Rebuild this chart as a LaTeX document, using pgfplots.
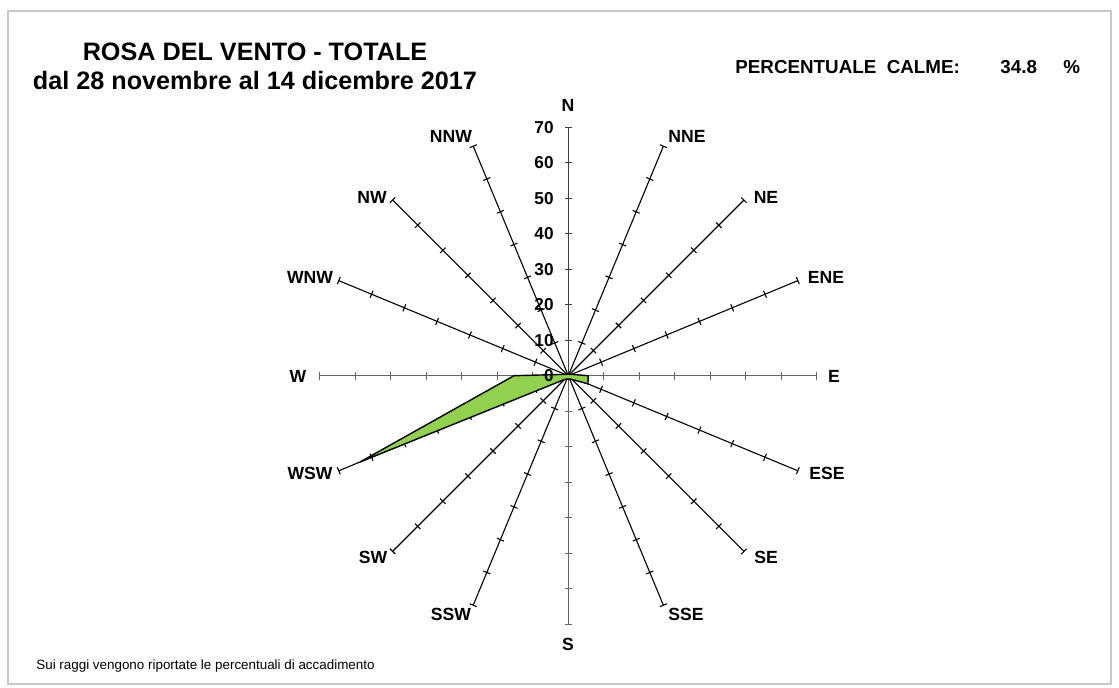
\documentclass[border=0pt]{standalone}
\usepackage{pgfplots}
\pgfplotsset{compat=1.18}
\usepackage{fontspec}
\setmainfont{Liberation Sans}
\definecolor{rosegreen}{RGB}{146,208,80}
\definecolor{framegray}{RGB}{200,200,200}
\begin{document}
\begin{tikzpicture}
\begin{scope}[x=0.5pt,y=-0.5pt]
  \path (0,0) rectangle (1119,687);
  \draw[framegray, line width=0.6pt] (8,11) rectangle (1111,684);
  \node[font=\bfseries\fontsize{12.6}{14.6}\selectfont, align=center] at (255,66)
    {ROSA DEL VENTO - TOTALE\\dal 28 novembre al 14 dicembre 2017};
  \node[font=\bfseries\fontsize{9.4}{11}\selectfont, anchor=west, inner sep=0pt] at (735,67)
    {PERCENTUALE\ \ CALME:};
  \node[font=\bfseries\fontsize{9.4}{11}\selectfont, anchor=west, inner sep=0pt] at (1000,67) {34.8};
  \node[font=\bfseries\fontsize{9.4}{11}\selectfont, anchor=west, inner sep=0pt] at (1063,67) {\%};
  \node[font=\fontsize{6.7}{8}\selectfont, anchor=west, inner sep=0pt] at (36,666)
    {Sui raggi vengono riportate le percentuali di accadimento};
  \begin{scope}[every node/.style={font=\bfseries\fontsize{8.8}{10}\selectfont}]
    \node at (568,105) {N};
    \node at (687,136) {NNE};
    \node at (766,197) {NE};
    \node at (826,277) {ENE};
    \node at (834,376) {E};
    \node at (827,473) {ESE};
    \node at (766,557) {SE};
    \node at (686,614) {SSE};
    \node at (568,644) {S};
    \node at (451,614) {SSW};
    \node at (373,557) {SW};
    \node at (310,473) {WSW};
    \node at (298,376) {W};
    \node at (310,277) {WNW};
    \node at (372,197) {NW};
    \node at (451,136) {NNW};
  \end{scope}
\end{scope}
% spokes with ticks (centre of the rose)
\foreach \ang/\col in {90/black!75, 67.5/black, 45/black, 22.5/black, 0/black!60, -22.5/black, -45/black, -67.5/black,
                   -90/black!60, -112.5/black, -135/black, -157.5/black, 180/black!60, 157.5/black, 135/black, 112.5/black}{
  \begin{scope}[shift={(284.15pt,-187.85pt)}, rotate=\ang]
    \draw[\col, line width=0.55pt] (0,0) -- (124.2pt,0);
    \foreach \k in {1,...,7}{
      \draw[\col, line width=0.55pt] (\k*17.745pt,-1.9pt) -- (\k*17.745pt,1.9pt);
    }
  \end{scope}
}
\begin{axis}[
  hide axis, clip=false,
  x=1.7745pt, y=1.7745pt,
  xmin=-75, xmax=75, ymin=-75, ymax=75,
  anchor=origin, at={(284.15pt,-187.85pt)},
]
  % (direction angle in degrees, 0 = E, counter-clockwise ; percentage)
  \addplot[draw=black, line width=0.7pt, fill=rosegreen, data cs=polar] coordinates {
    (90,0.5) (67.5,0.5) (45,0.5) (22.5,1.0) (0,5.6) (-22.5,6.0) (-45,1.5) (-67.5,1.0)
    (-90,1.0) (-112.5,1.0) (-135,1.5) (-157.5,63.5) (180,15.3) (157.5,1.0) (135,0.5) (112.5,0.5)
  } -- cycle;
\end{axis}
\begin{scope}[x=0.5pt,y=-0.5pt]
  \begin{scope}[every node/.style={font=\bfseries\fontsize{8.6}{9}\selectfont, anchor=east, inner sep=0pt}]
    \foreach \k in {0,...,7}{
      \pgfmathsetmacro{\yy}{375.7-35.49*\k}
      \pgfmathtruncatemacro{\lab}{10*\k}
      \node at (554,\yy) {\lab};
    }
  \end{scope}
\end{scope}
\end{tikzpicture}
\end{document}
